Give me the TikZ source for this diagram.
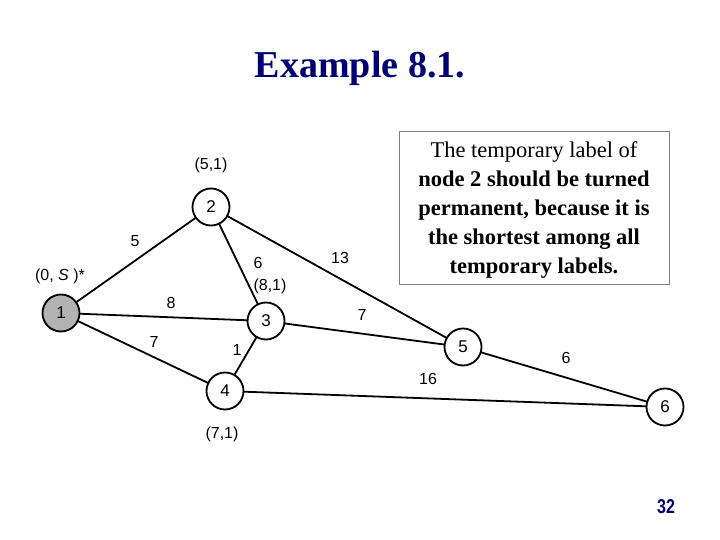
\documentclass[tikz,border=0pt]{standalone}
\usepackage{fontspec}
\setmainfont{Liberation Serif}
\setsansfont{Liberation Sans}
\begin{document}
\begin{tikzpicture}[x=1pt,y=-1pt,
  vtx/.style={circle,draw,line width=1.8pt,minimum size=37pt,inner sep=0pt,font=\sffamily\fontsize{17}{17}\selectfont,fill=white},
  edge/.style={line width=1.8pt},
  lab/.style={font=\sffamily\fontsize{16}{16}\selectfont,inner sep=0pt}]
\useasboundingbox (0,0) rectangle (720,540);
\node[font=\bfseries\fontsize{38}{38}\selectfont,text=blue!45!black] (title) at (360,68) {Example 8.1.};
\draw[edge] (61,313) -- (211,207) (61,313) -- (266,321) (61,313) -- (225,391)
  (211,207) -- (266,321) (211,207) -- (463,347) (266,321) -- (225,391)
  (266,321) -- (463,347) (225,391) -- (665,407) (463,347) -- (665,407);
\node[vtx,fill=gray!60] (n1) at (61,313) {1};
\node[vtx] (n2) at (211,207) {2};
\node[vtx] (n3) at (266,321) {3};
\node[vtx] (n4) at (225,391) {4};
\node[vtx] (n5) at (463,347) {5};
\node[vtx] (n6) at (665,407) {6};
\node[lab] (w12) at (135,241) {5};
\node[lab] (w13) at (171,303) {8};
\node[lab] (w14) at (154,342) {7};
\node[lab] (w23) at (258,263) {6};
\node[lab] (w25) at (340,258) {13};
\node[lab] (w34) at (237,350) {1};
\node[lab] (w35) at (362,315) {7};
\node[lab] (w46) at (428,379) {16};
\node[lab] (w56) at (566,358) {6};
\node[lab] (l2) at (211,165) {(5,1)};
\node[lab] (l1) at (60,276) {(0, \textit{S} )*};
\node[lab] (l3) at (270,286) {(8,1)};
\node[lab] (l4) at (222,434) {(7,1)};
\node[draw=gray,fill=white,minimum width=270pt,minimum height=153pt,align=center,
  font=\bfseries\fontsize{22.5}{29}\selectfont,inner sep=2pt] (box) at (534,207.5)
  {\mdseries\strut The temporary label of\\node 2 should be turned\\permanent, because it is\\the shortest among all\\temporary labels.};
\node[font=\sffamily\bfseries\fontsize{20}{20}\selectfont,text=blue!45!black,xscale=0.8] (pg) at (666,507) {32};
\end{tikzpicture}
\end{document}
